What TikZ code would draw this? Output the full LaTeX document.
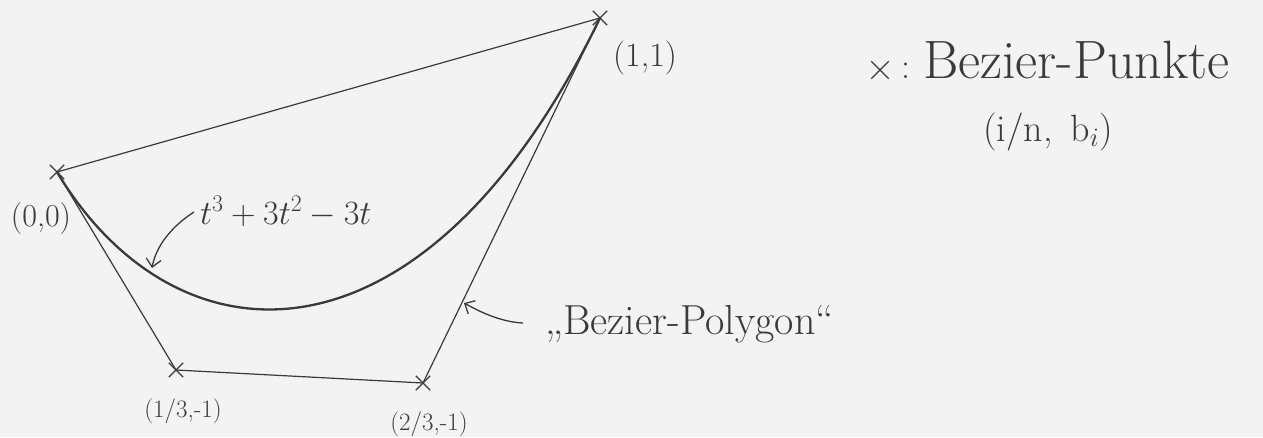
\RequirePackage{fix-cm}
\documentclass[tikz,border=0pt]{standalone}
\usetikzlibrary{shapes.misc,arrows.meta}
\definecolor{ink}{HTML}{3A3A3A}
\definecolor{paper}{HTML}{F3F3F3}
\begin{document}
\begin{tikzpicture}[x=1pt,y=-1pt,
  bpt/.style={cross out,draw=ink,line width=1.3pt,minimum size=13pt,inner sep=0pt},
  poly/.style={draw=ink,line width=1.2pt},
  curvestyle/.style={draw=ink,line width=2.3pt},
  lbl/.style={text=ink,inner sep=0pt},
  pointer/.style={draw=ink,line width=1.3pt,-{Straight Barb[length=8pt,width=15pt]}}
]
\fill[paper] (0,0) rectangle (1263,437);
\useasboundingbox (0,0) rectangle (1263,437);

% Bezier points
\node[bpt] (p0) at (57,172) {};
\node[bpt] (p1) at (176,370) {};
\node[bpt] (p2) at (423,383) {};
\node[bpt] (p3) at (600,18) {};

% Bezier polygon
\draw[poly] (p0.center) -- (p1.center) -- (p2.center) -- (p3.center) -- (p0.center);
% Bezier curve
\draw[curvestyle] (p0.center) .. controls (p1.center) and (p2.center) .. (p3.center);

% point labels
\node[lbl,anchor=base,font=\fontsize{32}{34}\selectfont] (l0) at (41,226) {(0,0)};
\node[lbl,anchor=base,font=\fontsize{25}{27}\selectfont] (l1) at (183,417) {(1/3,-1)};
\node[lbl,anchor=base,font=\fontsize{25}{27}\selectfont] (l2) at (429,430) {(2/3,-1)};
\node[lbl,anchor=base,font=\fontsize{34}{36}\selectfont] (l3) at (645,66) {(1,1)};

% curve label
\node[lbl,anchor=base west,font=\fontsize{34}{36}\selectfont] (lt) at (200,224) {$t^3+3t^2-3t$};
\coordinate (a1s) at (194,212);
\coordinate (a1e) at (152,268);
\draw[pointer] (a1s) .. controls (172,226) and (156,246) .. (a1e);

% polygon label
\node[lbl,anchor=base west,font=\fontsize{42}{44}\selectfont] (lp) at (545,334) {„Bezier-Polygon“};
\coordinate (a2s) at (523,323);
\coordinate (a2e) at (464,303);
\draw[pointer] (a2s) .. controls (502,322) and (482,313) .. (a2e);

% legend
\node[bpt,minimum size=16pt] (lx) at (880,70) {};
\node[lbl,anchor=base,font=\fontsize{36}{40}\selectfont] (colon) at (906,78) {:};
\node[lbl,anchor=base west,font=\fontsize{54}{58}\selectfont] (leg) at (923,78) {Bezier-Punkte};
\node[lbl,anchor=base west,font=\fontsize{38}{40}\selectfont] (legsub) at (983,141) {(i/n,\, b$_i$)};
\end{tikzpicture}
\end{document}
